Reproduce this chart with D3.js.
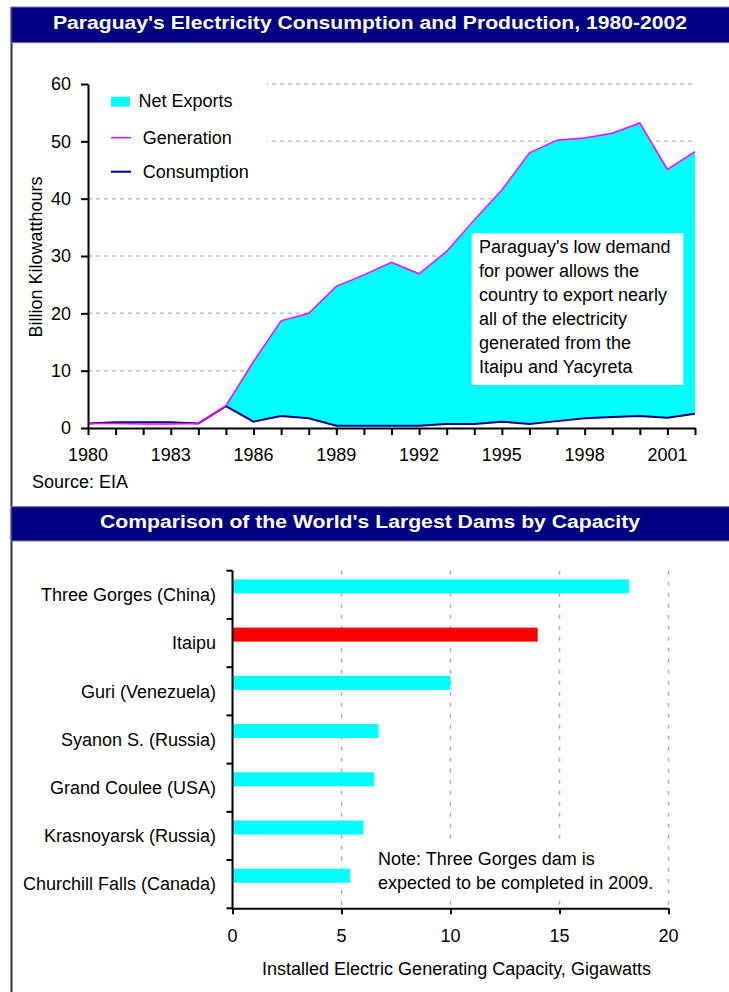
<!DOCTYPE html>
<html>
<head>
<meta charset="utf-8">
<script src="https://cdn.jsdelivr.net/npm/d3@7"></script>
<style>
  body { margin: 0; background: #fff; }
  svg text { font-family: 'Liberation Sans', Arial, sans-serif; font-size: 18px; fill: #000; }
</style>
</head>
<body>
<div id="chart"></div>
<script>
// top chart: Paraguay electricity, billion kWh
const years = [1980, 1981, 1982, 1983, 1984, 1985, 1986, 1987, 1988, 1989, 1990, 1991,
  1992, 1993, 1994, 1995, 1996, 1997, 1998, 1999, 2000, 2001, 2002];
const generation = [0.8, 0.8, 0.7, 0.7, 0.8, 3.9, 11.6, 18.7, 20.0, 24.7, 26.7, 28.9,
  26.9, 30.8, 36.3, 41.5, 48.0, 50.2, 50.6, 51.4, 53.2, 45.1, 48.2];
const consumption = [0.8, 1.0, 1.0, 1.0, 0.8, 3.8, 1.1, 2.1, 1.7, 0.4, 0.4, 0.4,
  0.4, 0.7, 0.7, 1.1, 0.7, 1.2, 1.7, 1.9, 2.1, 1.8, 2.5];
const yearLabels = [1980, 1983, 1986, 1989, 1992, 1995, 1998, 2001];
const kwhTicks = [0, 10, 20, 30, 40, 50, 60];
const noteLines = ["Paraguay's low demand", 'for power allows the', 'country to export nearly',
  'all of the electricity', 'generated from the', 'Itaipu and Yacyreta'];

// bottom chart: dams, gigawatts
const dams = ['Three Gorges (China)', 'Itaipu', 'Guri (Venezuela)', 'Syanon S. (Russia)',
  'Grand Coulee (USA)', 'Krasnoyarsk (Russia)', 'Churchill Falls (Canada)'];
const capacity = [18.2, 14.0, 10.0, 6.7, 6.5, 6.0, 5.4];
const gwTicks = [0, 5, 10, 15, 20];
const damNote = ['Note: Three Gorges dam is', 'expected to be completed in 2009.'];

const svg = d3.select('#chart').append('svg')
  .attr('width', 729)
  .attr('height', 992);

// frame: left border + title bars
svg.append('line')
  .attr('x1', 11.5).attr('x2', 11.5).attr('y1', 7).attr('y2', 992)
  .attr('stroke', '#333').attr('stroke-width', 2);

function titleBar(y0, y1, text, x0, w, base) {
  svg.append('rect')
    .attr('x', 11).attr('y', y0).attr('width', 720).attr('height', y1 - y0)
    .attr('fill', '#000080').attr('stroke', '#7777bb').attr('stroke-width', 1);
  svg.append('text')
    .attr('x', x0).attr('y', base)
    .attr('textLength', w).attr('lengthAdjust', 'spacingAndGlyphs')
    .style('font-weight', 'bold').style('fill', '#fff')
    .text(text);
}
titleBar(7, 42.7, "Paraguay's Electricity Consumption and Production, 1980-2002", 53, 634, 28.5);
titleBar(506.7, 541, "Comparison of the World's Largest Dams by Capacity", 100, 540, 528);

// ---------- top chart ----------
const x = d3.scaleLinear().domain([1980, 2002]).range([88, 695]);
const y = d3.scaleLinear().domain([0, 60]).range([428, 84]);
const rows = years.map((yr, i) => ({ year: yr, gen: generation[i], con: consumption[i] }));

const upper = svg.append('g');

upper.selectAll('.grid')
  .data(kwhTicks.slice(1))
  .enter().append('line')
    .attr('x1', 88).attr('x2', 695)
    .attr('y1', d => y(d)).attr('y2', d => y(d))
    .attr('stroke', '#c0c0c0').attr('stroke-width', 1.5).attr('stroke-dasharray', '4,4');

upper.append('path')
  .datum(rows)
  .attr('fill', '#00ffff')
  .attr('d', d3.area().x(d => x(d.year)).y0(d => y(Math.min(d.con, d.gen))).y1(d => y(d.gen)));

upper.append('path')
  .datum(rows)
  .attr('fill', 'none').attr('stroke', '#000080').attr('stroke-width', 2)
  .attr('d', d3.line().x(d => x(d.year)).y(d => y(d.con)));

upper.append('path')
  .datum(rows)
  .attr('fill', 'none').attr('stroke', '#ff00ff').attr('stroke-width', 1.5)
  .attr('d', d3.line().x(d => x(d.year)).y(d => y(d.gen)));

// legend
upper.append('rect').attr('x', 89).attr('y', 78).attr('width', 178).attr('height', 112).attr('fill', '#fff');
upper.append('rect').attr('x', 111).attr('y', 96.7).attr('width', 19).attr('height', 10).attr('fill', '#00ffff');
upper.append('text').attr('x', 138.5).attr('y', 106.5).text('Net Exports');
upper.append('line').attr('x1', 111).attr('x2', 131).attr('y1', 137.7).attr('y2', 137.7)
  .attr('stroke', '#ff00ff').attr('stroke-width', 1.5);
upper.append('text').attr('x', 142.7).attr('y', 143.5).text('Generation');
upper.append('line').attr('x1', 111).attr('x2', 131).attr('y1', 171.7).attr('y2', 171.7)
  .attr('stroke', '#000080').attr('stroke-width', 2);
upper.append('text').attr('x', 142.7).attr('y', 177.5).text('Consumption');

// note box
upper.append('rect').attr('x', 471.7).attr('y', 233.3).attr('width', 211.6).attr('height', 151.7).attr('fill', '#fff');
upper.selectAll('.note')
  .data(noteLines)
  .enter().append('text')
    .attr('x', 479)
    .attr('y', (d, i) => 252.5 + i * 24)
    .text(d => d);

// axes
const xAxis = upper.append('g')
  .attr('transform', `translate(0,${y(0)})`)
  .call(d3.axisBottom(x).tickValues(years).tickSize(7).tickSizeOuter(0).tickFormat(''));
const yAxis = upper.append('g')
  .attr('transform', `translate(${x(1980)},0)`)
  .call(d3.axisLeft(y).tickValues(kwhTicks).tickSize(7).tickSizeOuter(0).tickFormat(''));
[xAxis, yAxis].forEach((a) => {
  a.selectAll('path, line').attr('stroke', '#000').attr('stroke-width', 2);
});

upper.selectAll('.xlab')
  .data(yearLabels)
  .enter().append('text')
    .attr('x', d => x(d)).attr('y', 461)
    .attr('text-anchor', 'middle')
    .text(d => d);
upper.selectAll('.ylab')
  .data(kwhTicks)
  .enter().append('text')
    .attr('x', 71).attr('y', d => y(d))
    .attr('dy', '0.35em')
    .attr('text-anchor', 'end')
    .text(d => d);

upper.append('text')
  .attr('transform', 'translate(41.5,257) rotate(-90)')
  .attr('text-anchor', 'middle')
  .text('Billion Kilowatthours');
upper.append('text').attr('x', 32).attr('y', 488).text('Source: EIA');

// ---------- bottom chart ----------
const gx = d3.scaleLinear().domain([0, 20]).range([232.5, 668.5]);
const gy = d3.scaleBand().domain(dams).range([570.7, 908.3]);
const lower = svg.append('g');

lower.selectAll('.vgrid')
  .data(gwTicks.slice(1))
  .enter().append('line')
    .attr('x1', d => gx(d)).attr('x2', d => gx(d))
    .attr('y1', 570.7).attr('y2', 908.3)
    .attr('stroke', '#b0b0b0').attr('stroke-width', 1.5).attr('stroke-dasharray', '4,7');

lower.selectAll('.bar')
  .data(dams)
  .enter().append('rect')
    .attr('x', gx(0))
    .attr('y', d => gy(d) + gy.bandwidth() * 0.18)
    .attr('width', (d, i) => gx(capacity[i]) - gx(0))
    .attr('height', gy.bandwidth() * 0.29)
    .attr('fill', d => (d === 'Itaipu' ? '#ff0000' : '#00ffff'));

lower.append('rect').attr('x', 372).attr('y', 843).attr('width', 288).attr('height', 54).attr('fill', '#fff');
lower.selectAll('.dnote')
  .data(damNote)
  .enter().append('text')
    .attr('x', 378)
    .attr('y', (d, i) => 865 + i * 24)
    .text(d => d);

// category ticks sit on band edges
const edges = dams.map(d => gy(d)).concat([gy.range()[1]]);
const gAxisY = lower.append('g');
gAxisY.append('line')
  .attr('x1', gx(0)).attr('x2', gx(0)).attr('y1', 570.7).attr('y2', 908.3);
gAxisY.selectAll('.tk')
  .data(edges)
  .enter().append('line')
    .attr('x1', gx(0) - 6).attr('x2', gx(0))
    .attr('y1', d => d).attr('y2', d => d);
gAxisY.selectAll('line').attr('stroke', '#000').attr('stroke-width', 2);

lower.selectAll('.dlab')
  .data(dams)
  .enter().append('text')
    .attr('x', 216)
    .attr('y', d => gy(d) + gy.bandwidth() / 2)
    .attr('dy', '0.35em')
    .attr('text-anchor', 'end')
    .text(d => d);

const gAxisX = lower.append('g')
  .attr('transform', 'translate(0,908.3)')
  .call(d3.axisBottom(gx).tickValues(gwTicks).tickSize(6).tickSizeOuter(0).tickFormat(''));
gAxisX.selectAll('path, line').attr('stroke', '#000').attr('stroke-width', 2);

lower.selectAll('.glab')
  .data(gwTicks)
  .enter().append('text')
    .attr('x', d => gx(d)).attr('y', 942)
    .attr('text-anchor', 'middle')
    .text(d => d);
lower.append('text')
  .attr('x', 456.5).attr('y', 974.5)
  .attr('text-anchor', 'middle')
  .text('Installed Electric Generating Capacity, Gigawatts');
</script>
</body>
</html>
